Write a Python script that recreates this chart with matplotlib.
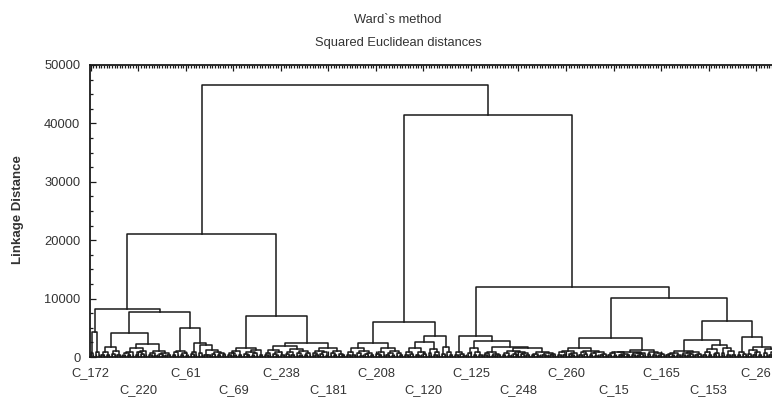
import numpy as np
import matplotlib
matplotlib.use('Agg')
import matplotlib.pyplot as plt
from matplotlib.ticker import MultipleLocator, FixedLocator

plt.rcParams['font.family'] = ['Liberation Sans', 'DejaVu Sans']

# merge height between neighbouring leaves (leaf order as drawn)
gaps_a1 = [600, 4300, 900, 8200,
           400, 850, 300, 1700, 500, 1100, 350, 4100,
           250, 700, 400, 900, 1500, 300, 800, 450, 1000, 2200,
           300, 600, 200, 1000, 450, 250, 700, 350, 7700,
           350, 800, 1100, 400, 650, 250, 5000,
           500, 900, 2400,
           600, 2000, 400, 300, 1200, 500, 800, 350, 600, 450]
gaps_a2 = [400, 700, 250, 1000, 300, 1500, 500, 350, 900, 200, 600, 1200, 400, 7000,
           300, 700, 1200, 450, 250, 800, 350, 1900,
           500, 900, 300, 1400, 600, 250, 1000, 400, 700, 2400,
           600, 300, 1100, 450, 800, 250, 1500, 700, 350, 950, 500, 300]
gaps_b1 = [400, 800, 300, 1500, 600, 250, 1000, 450, 700, 350, 2400,
           500, 300, 900, 1500, 400, 700, 250, 1100, 600, 350, 6000,
           300, 900, 500, 1600, 400, 250, 800, 450, 2500,
           700, 1400, 350, 900, 3600,
           500, 1700, 800, 400]
gaps_b2l = [300, 900, 500, 250, 3600,
            600, 1500, 400, 900, 300, 2700,
            300, 600, 900, 250, 500, 350, 1700,
            400, 700, 250, 1100, 500, 300, 800, 450, 600, 350, 1500,
            300, 550, 250, 800, 400, 200, 600, 350, 450]
gaps_b2r = [400, 800, 300, 1000, 500, 250, 700, 1500,
            350, 900, 450, 1100, 300, 600, 250, 800, 400, 550, 3300,
            300, 600, 250, 800, 400, 200, 500, 350, 900, 300, 650, 250, 450, 700, 1200,
            500, 900, 300, 700, 250, 450, 10100,
            300, 500, 250, 700, 400, 1000, 350, 600, 200, 450, 800, 300, 550, 2900,
            400, 900, 300, 1300, 500, 700, 2000,
            600, 1500, 400, 1000, 350, 6200,
            300, 800, 450, 3400,
            500, 1200, 300, 900, 400, 1700,
            600, 1300, 350, 900, 500, 1100]
split_a = 21000
split_root = 46500
split_b = 41400
split_b2 = 12000

gaps = gaps_a1 + [split_a] + gaps_a2 + [split_root] + gaps_b1 + [split_b] + gaps_b2l + [split_b2] + gaps_b2r
n_leaves = len(gaps) + 1

label_names = ['C_172', 'C_220', 'C_61', 'C_69', 'C_238', 'C_181', 'C_208', 'C_120',
               'C_125', 'C_248', 'C_260', 'C_15', 'C_165', 'C_153', 'C_26']
label_every = 18
y_ticks = [0, 10000, 20000, 30000, 40000, 50000]

line_col = '#1a1a1a'


def draw(ax, lo, hi):
    if lo == hi:
        return lo, 0.0
    k = lo + int(np.argmax(gaps[lo:hi]))
    h = gaps[k]
    xl, hl = draw(ax, lo, k)
    xr, hr = draw(ax, k + 1, hi)
    ax.plot([xl, xl, xr, xr], [hl, h, h, hr], color=line_col, lw=1.1)
    return (xl + xr) / 2.0, h


fig = plt.figure(figsize=(7.72, 3.99), dpi=100)
ax = fig.add_axes([90/772, 42/399, 692.5/772, 292/399])

draw(ax, 0, n_leaves - 1)

ax.set_xlim(-0.3, n_leaves)
ax.set_ylim(0, 50000)

ax.set_yticks(y_ticks)
ax.set_yticklabels([str(v) for v in y_ticks])
ax.yaxis.set_minor_locator(MultipleLocator(2500))

label_pos = [i * label_every for i in range(len(label_names))]
ax.xaxis.set_major_locator(FixedLocator(label_pos))
ax.xaxis.set_minor_locator(FixedLocator(range(n_leaves)))
ax.set_xticklabels(label_names)

ax.tick_params(axis='both', which='both', direction='in', colors=line_col,
               labelcolor='#333333', labelsize=9.3)
ax.tick_params(axis='x', which='both', top=True, bottom=True)
ax.tick_params(axis='x', which='major', length=4, width=0.9)
ax.tick_params(axis='x', which='minor', length=2.5, width=0.9)
ax.tick_params(axis='y', which='major', length=4, width=0.9, pad=7)
ax.tick_params(axis='y', which='minor', length=2.5, width=0.9)

for i, t in enumerate(ax.xaxis.get_major_ticks()):
    t.set_pad(7 if i % 2 == 0 else 19.5)

for s in ax.spines.values():
    s.set_color(line_col)
    s.set_linewidth(1.3)

fig.text(398/772, 1 - 20/399, 'Ward`s method', ha='center', va='center',
         fontsize=9.3, color='#333333')
fig.text(398/772, 1 - 43/399, 'Squared Euclidean distances', ha='center', va='center',
         fontsize=9.3, color='#333333')
fig.text(18/772, 1 - 210/399, 'Linkage Distance', ha='center', va='center',
         rotation=90, fontsize=9.5, fontweight='bold', color='#333333')

fig.savefig('out.png', dpi=100)
